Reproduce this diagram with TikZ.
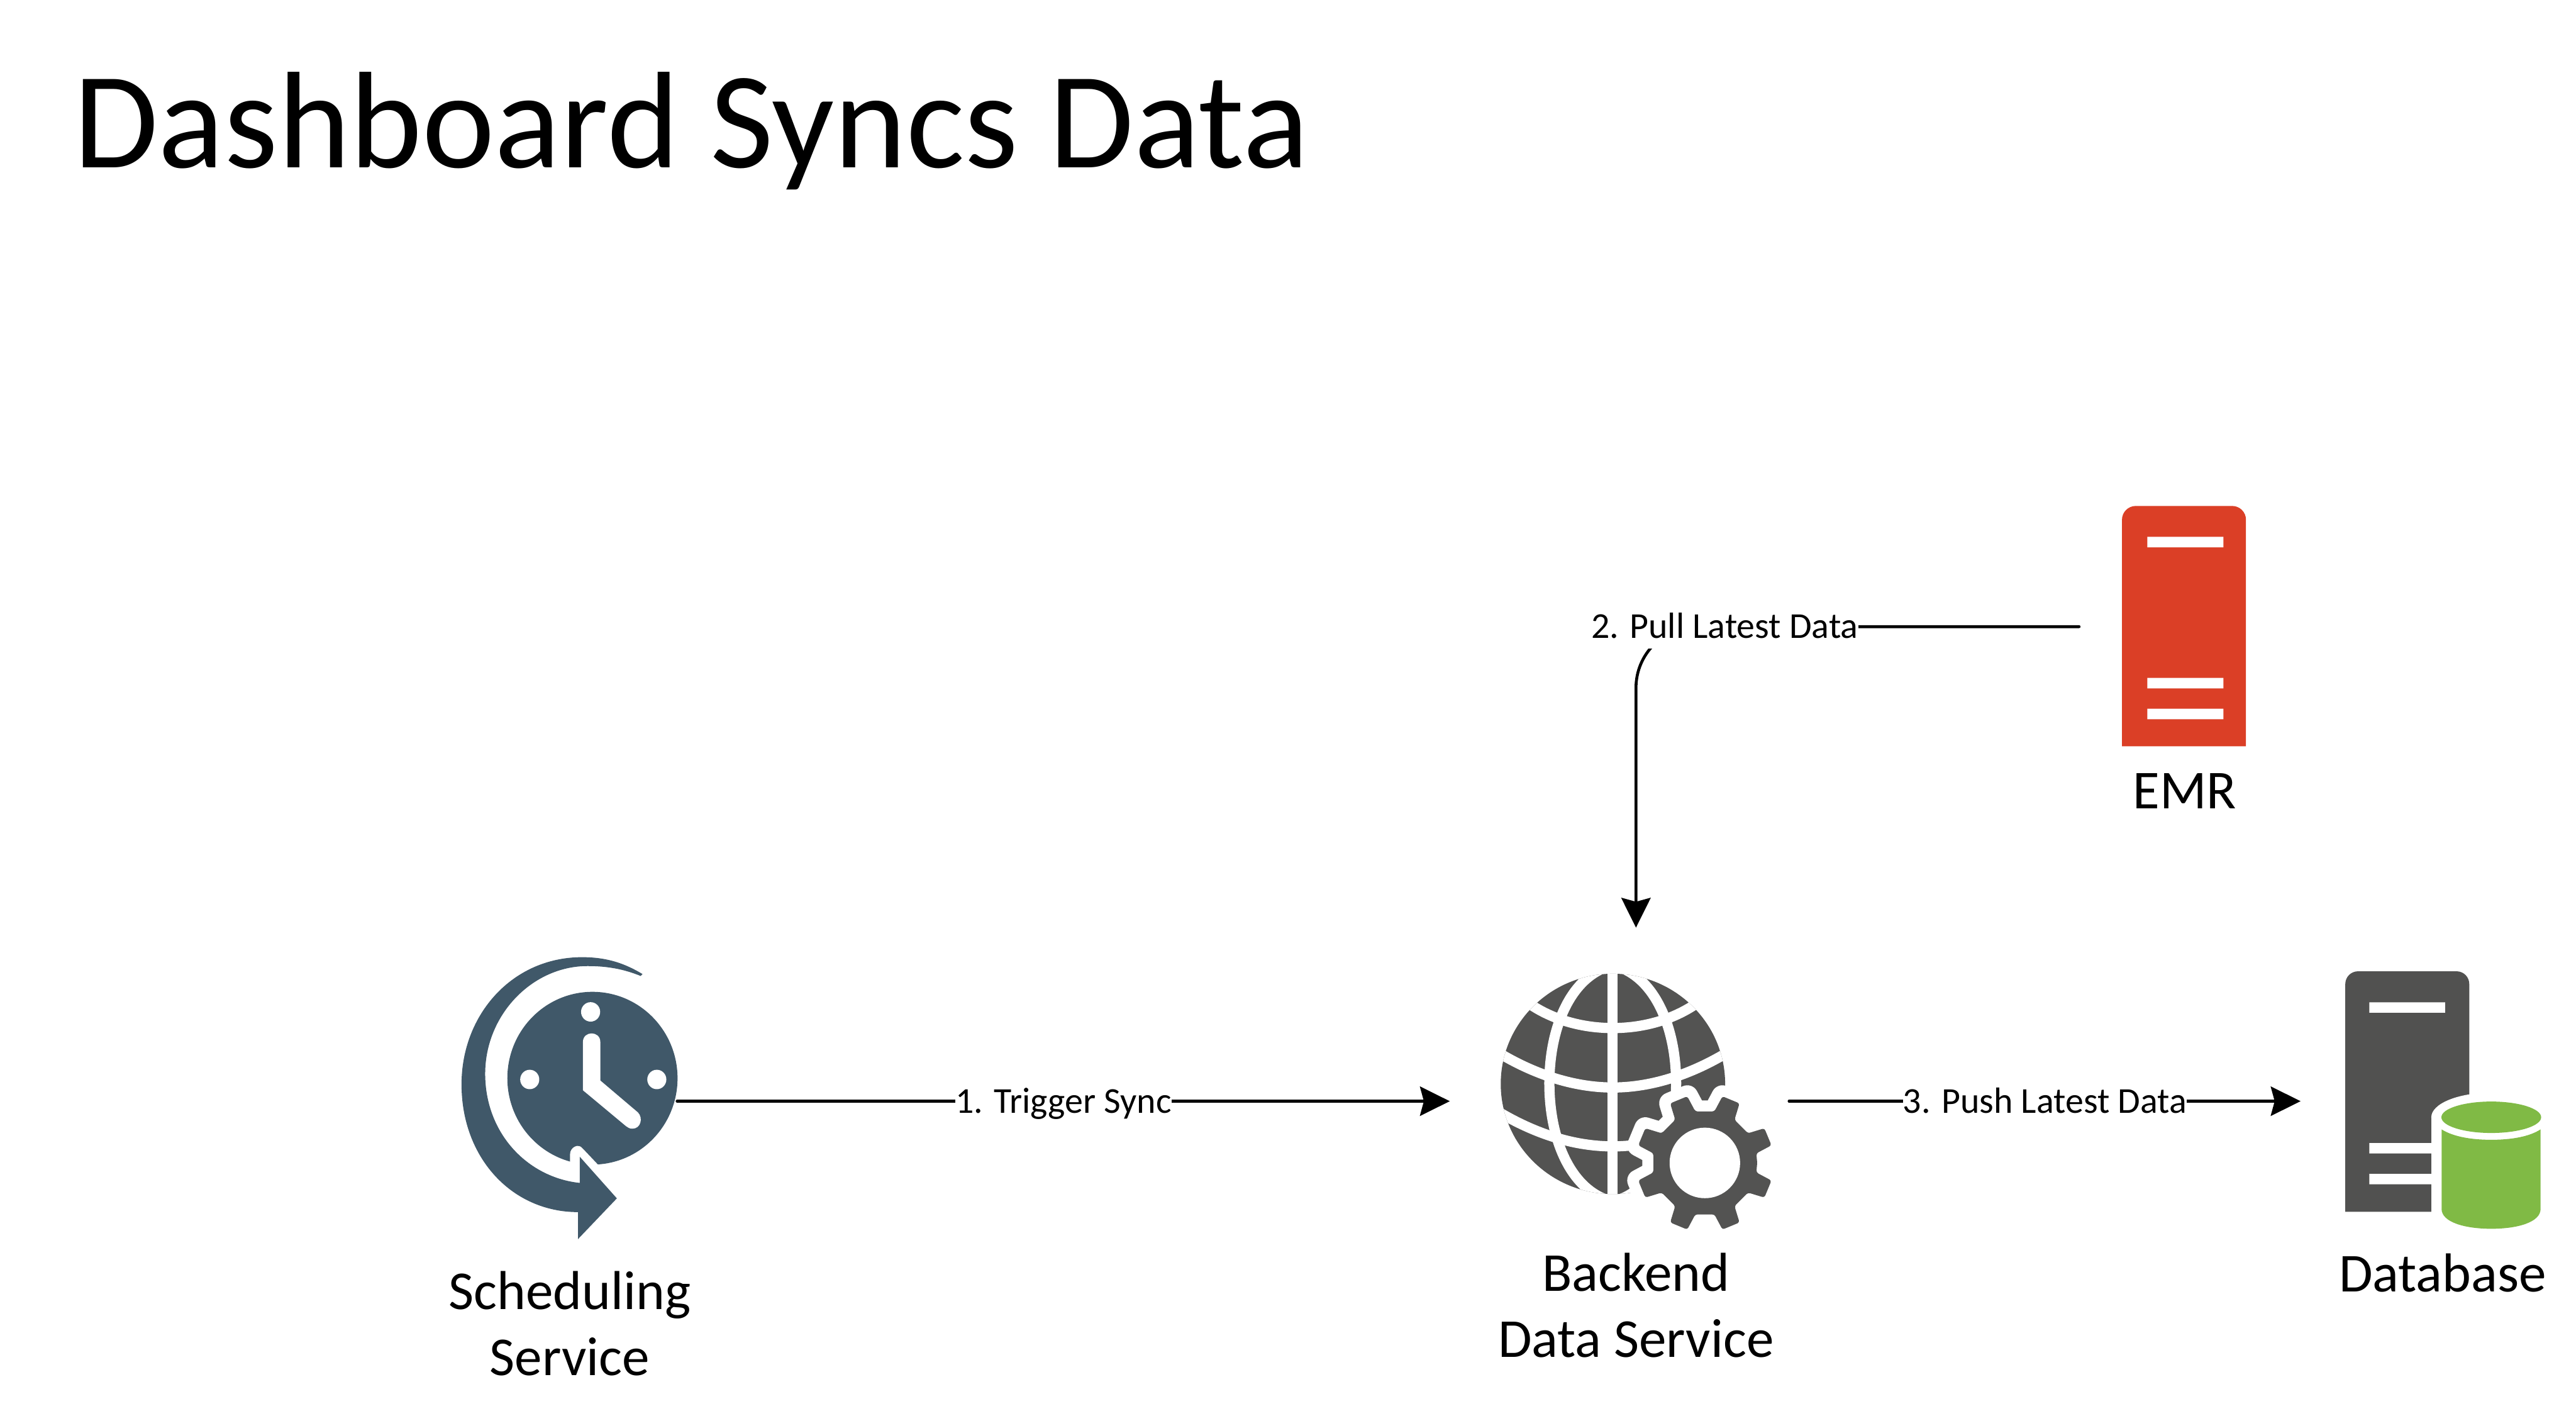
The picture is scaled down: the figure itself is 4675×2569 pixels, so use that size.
\documentclass[tikz,border=0pt]{standalone}
\usepackage{fontspec}
\setmainfont{Carlito}
\usetikzlibrary{arrows.meta}
\definecolor{clockblue}{HTML}{405869}
\definecolor{icongray}{HTML}{535352}
\definecolor{emrred}{HTML}{DB3F26}
\definecolor{dbgreen}{HTML}{80BA45}
\tikzset{
	iconbox/.style={inner sep=0pt, minimum width=#1},
	flow/.style={line width=1.5pt, line cap=round, -{Stealth[length=.54cm,width=.53cm,inset=.07cm]}},
	flowtext/.style={fill=white, inner sep=0pt, minimum height=.8cm, text height=13pt, text depth=1pt, font=\fontsize{18.8}{22}\selectfont},
	iconname/.style={align=center, inner sep=0pt, font=\fontsize{28.3}{34}\selectfont},
	clockpart/.style={x=.00333cm, y=-.00383cm},
	globepart/.style={x=.00357cm, y=-.00344cm},
	dbpart/.style={x=.00333cm, y=-.00344cm},
	globeline/.style={white, line width=.185cm}
}
\begin{document}
\begin{tikzpicture}[x=.01cm, y=-.01cm]
	\useasboundingbox (0,0) rectangle (4675,2569);
	\node[anchor=base west, inner sep=0pt, font=\fontsize{71}{80}\selectfont] (title) at (133,304) {Dashboard Syncs Data};
	% clock
	\begin{scope}[shift={(780,1680)}, clockpart]
		\fill[clockblue] (887,721) ellipse [x radius=464, y radius=409];
		\fill[white] (765,1150) -- (765,1080) .. controls (765,1050) and (810,1025) .. (835,1055) -- (920,1133) -- (920,1150) -- cycle;
		\fill[white] (835,550) .. controls (835,495) and (930,495) .. (930,550) -- (930,732) -- (1135,883) .. controls (1165,910) and (1150,960) .. (1105,960) .. controls (1090,960) and (1080,955) .. (1070,948) -- (835,778) -- cycle;
		\foreach \x/\y in {877/407, 545/727, 1238/727}
			\fill[white] (\x,\y) ellipse [x radius=52, y radius=46];
		\fill[clockblue] (1160,228) .. controls (1050,170) and (950,148) .. (830,148) .. controls (450,148) and (173,420) .. (173,750) .. controls (173,1100) and (450,1355) .. (808,1355) -- (808,1483) -- (1020,1290) -- (818,1093) -- (818,1217) .. controls (530,1190) and (302,980) .. (302,700) .. controls (302,420) and (560,190) .. (860,190) .. controls (970,190) and (1060,205) .. (1150,237) -- cycle;
	\end{scope}
	% globe and gear
	\begin{scope}[shift={(2680,1720)}, globepart]
		\fill[icongray] (692,718) ellipse [x radius=570, y radius=582];
		\begin{scope}
			\clip (692,718) ellipse [x radius=570, y radius=582];
			\draw[globeline] (691,100) -- (691,1340);
			\draw[globeline] (660,100) .. controls (470,170) and (369,430) .. (369,715) .. controls (369,1000) and (470,1260) .. (660,1330);
			\draw[globeline] (722,100) .. controls (912,170) and (1013,430) .. (1013,715) .. controls (1013,1000) and (912,1260) .. (722,1330);
			\draw[globeline] (200,240) .. controls (340,370) and (520,423) .. (691,423) .. controls (862,423) and (1042,370) .. (1182,240);
			\draw[globeline] (60,520) .. controls (250,650) and (470,737) .. (691,737) .. controls (912,737) and (1132,650) .. (1322,520);
			\draw[globeline] (70,840) .. controls (260,965) and (470,1048) .. (691,1048) .. controls (912,1048) and (1122,965) .. (1312,840);
		\end{scope}
	\end{scope}
	\begin{scope}[shift={(3094,2110)}]
		\draw[white, fill=white, line width=.4cm, line join=round] (0:95) \foreach \a in {22.5,67.5,...,337.5} { -- (\a-12:95) -- (\a-7.7:125) -- (\a+7.7:125) -- (\a+12:95) } -- cycle;
		\fill[icongray, rounded corners=.04cm] (0:95) \foreach \a in {22.5,67.5,...,337.5} { -- (\a-12:95) -- (\a-7.7:125) -- (\a+7.7:125) -- (\a+12:95) } -- cycle;
		\fill[white] (0,0) circle (64);
	\end{scope}
	% database
	\begin{scope}[shift={(4220,1740)}, dbpart]
		\fill[icongray!98!black] (109,1335) [rounded corners=.23cm] -- (109,65) -- (785,65) [sharp corners] -- (785,1335) -- cycle;
		\fill[white] (240,229) rectangle (653,284) (240,972) rectangle (600,1027) (240,1135) rectangle (600,1190);
		\fill[white] (905,836) ellipse [x radius=327, y radius=130];
		\fill[white] (578,836) rectangle (800,1340);
		\fill[dbgreen] (905,836) ellipse [x radius=272, y radius=83];
		\fill[dbgreen] (634,900) .. controls (700,940) and (800,955) .. (905,955) .. controls (1010,955) and (1110,940) .. (1174,900) -- (1174,1320) .. controls (1174,1390) and (1050,1425) .. (905,1425) .. controls (760,1425) and (634,1390) .. (634,1320) -- cycle;
	\end{scope}
	% emr
	\fill[emrred] (3851,1354) [rounded corners=.25cm] -- (3851,918) -- (4076,918) [sharp corners] -- (4076,1354) -- cycle;
	\fill[white] (3897,974) rectangle (4035,993) (3897,1230) rectangle (4035,1249) (3897,1286) rectangle (4035,1305);
	% boxes the arrows run between
	\node[iconbox=3.9cm, minimum height=3cm] (sched) at (1033,1998) {};
	\node[iconbox=6.74cm, minimum height=6.28cm] (backend) at (2969,1998) {};
	\node[iconbox=3.82cm, minimum height=4.36cm] (emr) at (3965,1137) {};
	\node[iconbox=5.14cm, minimum height=4cm] (database) at (4433,1998) {};
	\draw[flow] (sched.east) -- (backend.west) node[midway, flowtext] (synctext) {1. Trigger Sync};
	\draw[flow, rounded corners=1.11cm] (emr.west) -| (backend.north);
	\node[flowtext] (pulltext) at (3130,1137) {2. Pull Latest Data};
	\draw[flow] ([xshift=-.6cm]backend.east) -- (database.west) node[midway, flowtext] (pushtext) {3. Push Latest Data};
	\node[iconname] (schedname) at (1034,2401) {Scheduling\\Service};
	\node[iconname] (backendname) at (2969,2368) {Backend\\Data Service};
	\node[iconname] (emrname) at (3965,1435) {EMR};
	\node[iconname] (databasename) at (4433,2310) {Database};
\end{tikzpicture}
\end{document}
